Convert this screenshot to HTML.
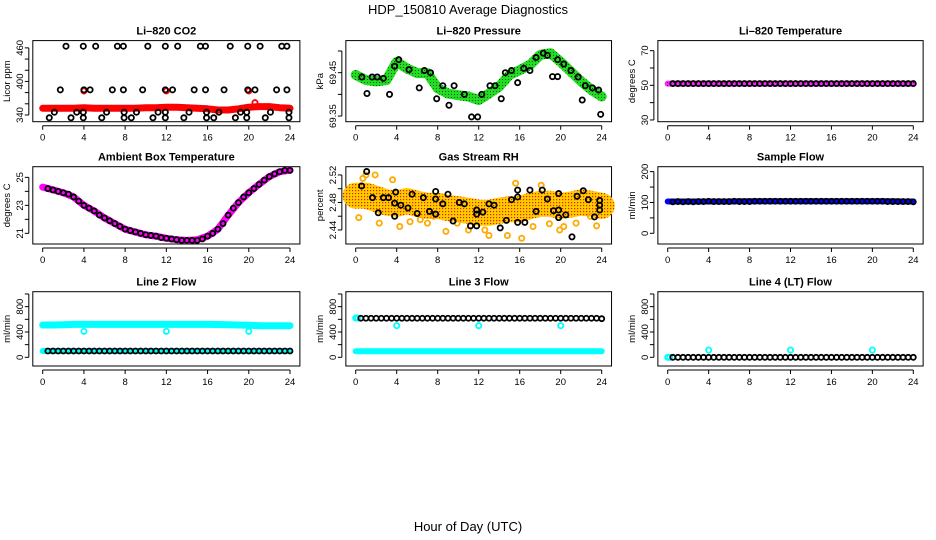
<!DOCTYPE html>
<html><head><meta charset="utf-8">
<style>
html,body{margin:0;padding:0;background:#fff;}
svg{display:block;font-family:"Liberation Sans",Helvetica,Arial,sans-serif;}
</style></head>
<body>
<svg id="root" width="936" height="540" viewBox="0 0 936 540" xmlns="http://www.w3.org/2000/svg">
<defs>
<pattern id="patGreen" width="3" height="3" patternUnits="userSpaceOnUse"><rect width="3" height="3" fill="#22dd22"/><rect x="1" y="1" width="1" height="1" fill="#0a5a0a"/></pattern>
<pattern id="patOrange" width="3" height="3" patternUnits="userSpaceOnUse"><rect width="3" height="3" fill="#ffcc00"/><rect x="1" y="1" width="1.2" height="1.2" fill="#e02000"/></pattern>
<pattern id="patMag" width="3" height="3" patternUnits="userSpaceOnUse"><rect width="3" height="3" fill="#ff22ff"/><rect x="1" y="1" width="1" height="1" fill="#600060"/></pattern>
</defs>
<text x="468" y="14" text-anchor="middle" font-size="13">HDP_150810  Average Diagnostics</text>
<text x="468" y="531" text-anchor="middle" font-size="13">Hour of Day (UTC)</text>
</svg>
<script>
// ---- data ----
const hours = [0,1,2,3,4,5,6,7,8,9,10,11,12,13,14,15,16,17,18,19,20,21,22,23,24];
const halfHours = [0.5,1,1.5,2,2.5,3,3.5,4,4.5,5,5.5,6,6.5,7,7.5,8,8.5,9,9.5,10,10.5,11,11.5,12,12.5,13,13.5,14,14.5,15,15.5,16,16.5,17,17.5,18,18.5,19,19.5,20,20.5,21,21.5,22,22.5,23,23.5,24];
const xTicks = [0,4,8,12,16,20,24];

const co2Band = [352,352,352,352,353,352,352,352,352,352,353,353,354,354,353,352,351,349,349,351,354,355,355,353,352];
const co2BlackHours = [2.26,3.94,5.14,7.25,7.83,10.2,11.9,13.1,15.3,15.8,18.2,19.9,21.1,23.2,23.7, 1.71,4.0,4.6,6.76,7.83,9.7,11.9,12.6,14.7,15.8,17.6,19.9,20.6,22.7,23.7, 1.13,3.3,3.94,6.2,7.9,9.1,11.2,11.9,14.2,15.9,17.1,19.2,19.8,22.1,23.9, 0.64,2.75,3.94,5.73,7.9,8.6,10.7,11.9,13.7,15.9,16.6,18.7,19.8,21.6,23.9];
const co2BlackVals = [463,463,463,463,463,463,463,463,463,463,463,463,463,463,463, 385,385,385,385,385,385,385,385,385,385,385,385,385,385,385, 345,345,345,345,345,345,345,345,345,345,345,345,345,345,345, 335,335,335,335,335,335,335,335,335,335,335,335,335,335,335];
const co2RedHours = [4,12,20,20.6];
const co2RedVals = [383,383,383,362];

const pressBand = [69.445,69.433,69.43,69.433,69.475,69.46,69.449,69.449,69.414,69.402,69.398,69.395,69.387,69.402,69.418,69.445,69.456,69.468,69.491,69.495,69.475,69.452,69.43,69.41,69.395];
const pressBlackHours = [1.1,3.3,6.2,7.9,9.1,11.3,11.9,14.2,15.8,19.2,19.7,22.1,23.9,0.6,1.6,2.1,2.7,3.8,4.2,5.2,6.7,7.3,8.5,9.6,10.6,12.3,13.1,13.6,14.6,15.2,16.4,17.0,17.6,18.3,18.7,19.7,20.3,21.0,21.7,22.4,23.1,23.7];
const pressBlackVals = [69.402,69.40,69.415,69.39,69.375,69.348,69.348,69.39,69.427,69.441,69.441,69.387,69.354,69.44,69.44,69.44,69.437,69.465,69.48,69.457,69.455,69.45,69.42,69.42,69.40,69.40,69.42,69.42,69.45,69.455,69.46,69.455,69.485,69.495,69.49,69.48,69.47,69.455,69.44,69.42,69.415,69.41];

const liTempBand = [51,51,51,51,51,51,51,51,51,51,51,51,51,51,51,51,51,51,51,51,51,51,51,51,51];
const liTempBlack = [51,51,51,51,51,51,51,51,51,51,51,51,51,51,51,51,51,51,51,51,51,51,51,51,51,51,51,51,51,51,51,51,51,51,51,51,51,51,51,51,51,51,51,51,51,51,51,51];

const ambientBand = [24.3,24.1,23.9,23.6,23.0,22.6,22.1,21.7,21.3,21.1,20.9,20.8,20.65,20.55,20.5,20.55,20.8,21.3,22.3,23.2,23.9,24.5,25.05,25.4,25.5];
const ambientBlack = [24.2,24.1,24.0,23.9,23.8,23.6,23.3,23.0,22.8,22.6,22.3,22.1,21.9,21.7,21.5,21.3,21.2,21.1,21.0,20.9,20.85,20.8,20.7,20.65,20.6,20.55,20.5,20.5,20.5,20.5,20.6,20.8,21.0,21.3,21.7,22.3,22.8,23.2,23.6,23.9,24.2,24.5,24.8,25.05,25.25,25.4,25.5,25.5];

const rhBand = [2.49,2.49,2.485,2.48,2.478,2.482,2.478,2.475,2.475,2.472,2.47,2.468,2.465,2.465,2.468,2.47,2.47,2.475,2.478,2.478,2.475,2.477,2.48,2.478,2.475];
const rhBlackHours = [0.58,1.07,1.64,2.2,2.7,3.2,3.8,3.9,3.8,4.4,5.1,5.5,6.0,6.6,7.2,7.8,7.8,7.8,8.5,9.0,9.5,10.1,10.6,11.2,11.8,11.8,11.8,12.4,13.0,13.5,14.1,14.7,15.2,15.8,15.8,15.8,16.5,17.0,17.6,18.2,18.7,19.3,19.8,19.8,19.8,20.5,21.1,21.6,22.2,22.7,23.3,23.8,23.8,23.8];
const rhBlackVals = [2.504,2.525,2.487,2.465,2.487,2.487,2.479,2.495,2.46,2.476,2.472,2.492,2.464,2.487,2.467,2.485,2.496,2.463,2.478,2.492,2.453,2.48,2.478,2.446,2.446,2.469,2.463,2.466,2.478,2.476,2.443,2.454,2.484,2.451,2.488,2.498,2.451,2.498,2.467,2.498,2.485,2.468,2.469,2.458,2.493,2.462,2.43,2.489,2.497,2.484,2.459,2.483,2.476,2.469];
const rhOrangeHours = [0.3,0.7,1.0,1.9,2.3,3.6,4.3,5.3,6.3,7.0,7.6,8.8,9.9,11.0,12.6,13.0,14.8,15.6,16.2,17.3,18.1,18.9,19.9,20.3,21.5,22.9,23.5];
const rhOrangeVals = [2.458,2.515,2.52,2.52,2.45,2.513,2.445,2.452,2.455,2.45,2.46,2.438,2.45,2.44,2.44,2.432,2.432,2.508,2.428,2.445,2.505,2.449,2.44,2.445,2.45,2.46,2.446];

const sampleBand = [103,103,103,103,103,103,103,104,104,104,104,104,104,104,104,104,104,104,104,104,104,104,104,103,103];
const sampleBlack = [102,103,102,103,102,103,103,104,103,103,103,103,104,103,103,103,104,104,104,104,104,104,104,104,104,104,104,104,104,104,104,104,104,104,104,104,104,104,104,104,104,104,103,103,103,103,103,102];

const line2High = [510,510,515,520,520,520,520,520,520,520,520,520,520,520,520,520,520,518,515,510,505,500,500,500,500];
const line2Low = [100,100,100,100,100,100,100,100,100,100,100,100,100,100,100,100,100,100,100,100,100,100,100,100,100];
const line2Black = [100,100,100,100,100,100,100,100,100,100,100,100,100,100,100,100,100,100,100,100,100,100,100,100,100,100,100,100,100,100,100,100,100,100,100,100,100,100,100,100,100,100,100,100,100,100,100,100];
const line2OutHours = [4,12,20];
const line2OutVals = [410,410,410];

const line3Low = [95,95,95,95,95,95,95,95,95,95,95,95,95,95,95,95,95,95,95,95,95,95,95,95,95];
const line3Black = [617,617,617,617,617,617,617,617,617,617,617,617,617,617,617,617,617,617,617,617,617,617,617,617,617,617,617,617,617,617,617,617,617,617,617,617,617,617,617,617,617,617,617,617,617,617,617,610];
const line3OutHours = [0,0.2,4,12,20];
const line3OutVals = [620,620,500,500,500];

const line4Black = [0,0,0,0,0,0,0,0,0,0,0,0,0,0,0,0,0,0,0,0,0,0,0,0,0,0,0,0,0,0,0,0,0,0,0,0,0,0,0,0,0,0,0,0,0,0,0,0];
const line4OutHours = [0,0.2,4,12,20];
const line4OutVals = [0,0,115,115,115];

// ---- drawing ----
const NS = 'http://www.w3.org/2000/svg';
const root = document.getElementById('root');
function mk(tag, attrs, parent){
  const el = document.createElementNS(NS, tag);
  for (const k in attrs) el.setAttribute(k, attrs[k]);
  (parent || root).appendChild(el);
  return el;
}
const cols = [{x0:42.7,x24:290.0},{x0:355.7,x24:601.7},{x0:667.7,x24:913.3}];
const rows = [{top:40.6,bot:121.7},{top:166.7,bot:244},{top:291.7,bot:366}];

function panel(name, c, r, title, ylab, ymin, ymax, ticks, labels){
  const col = cols[c], row = rows[r];
  const g = mk('g', {});
  
  
  const k = (col.x24 - col.x0) / 24;
  const sx = h => col.x0 + h * k;
  const sy = v => row.bot - (v - ymin) / (ymax - ymin) * (row.bot - row.top);
  const left = sx(-0.96), right = sx(24.96);
  const box = mk('rect', {x:left, y:row.top, width:right-left, height:row.bot-row.top, fill:'none', stroke:'#000', 'stroke-width':1}, g);
  
  
  const t = mk('text', {x:(left+right)/2, y:row.top-6, 'text-anchor':'middle', 'font-size':11, 'font-weight':'bold'}, g);
  t.textContent = title;
  
  
  const yl = mk('text', {transform:'translate(' + (left-23) + ',' + ((row.top+row.bot)/2) + ') rotate(-90)', 'text-anchor':'middle', 'font-size':9.5}, g);
  yl.textContent = ylab;
  
  
  const xa = mk('line', {x1:sx(0), x2:sx(24), y1:row.bot+4, y2:row.bot+4, stroke:'#000'}, g);
  
  
  xTicks.forEach(h => {
    mk('line', {x1:sx(h), x2:sx(h), y1:row.bot+4, y2:row.bot+8, stroke:'#000'}, g);
    const lt = mk('text', {x:sx(h), y:row.bot+19, 'text-anchor':'middle', 'font-size':9.5}, g);
    lt.textContent = h;
    
    
  });
  const ya = mk('line', {x1:left-4, x2:left-4, y1:sy(ticks[0]), y2:sy(ticks[ticks.length-1]), stroke:'#000'}, g);
  
  
  ticks.forEach(v => {
    mk('line', {x1:left-8, x2:left-4, y1:sy(v), y2:sy(v), stroke:'#000'}, g);
  });
  labels.forEach(v => {
    const lt = mk('text', {transform:'translate(' + (left-10) + ',' + sy(v) + ') rotate(-90)', 'text-anchor':'middle', 'font-size':9.5}, g);
    lt.textContent = v;
    
    
  });
  return {g, sx, sy};
}
function band(p, name, xs, ys, stroke, width){
  const pts = xs.map((h,i) => p.sx(h).toFixed(1) + ',' + p.sy(ys[i]).toFixed(1)).join(' ');
  const pl = mk('polyline', {points:pts, fill:'none', stroke:stroke, 'stroke-width':width, 'stroke-linecap':'round', 'stroke-linejoin':'round'}, p.g);
  
  
}
function dots(p, name, xs, ys, color, r){
  xs.forEach((h,i) => {
    const c = mk('circle', {cx:p.sx(h), cy:p.sy(ys[i]), r:r || 2.6, fill:'none', stroke:color, 'stroke-width':1.8}, p.g);
    
    
  });
}

let p;
p = panel('co2', 0, 0, 'Li\u2013820 CO2', 'Licor ppm', 328, 473, [340,360,380,400,420,440,460], [340,400,460]);
band(p, 'co2-band', hours, co2Band, '#ff0000', 7);
dots(p, 'co2-red-point', co2RedHours, co2RedVals, '#ff0000');
dots(p, 'co2-black-point', co2BlackHours, co2BlackVals, '#000');

p = panel('pressure', 1, 0, 'Li\u2013820 Pressure', 'kPa', 69.337, 69.524, [69.35,69.40,69.45,69.50], ['69.35','69.45']);
band(p, 'pressure-band', hours, pressBand, 'url(#patGreen)', 10);
dots(p, 'pressure-black-point', pressBlackHours, pressBlackVals, '#000');

p = panel('li-temp', 2, 0, 'Li\u2013820 Temperature', 'degrees C', 29.0, 75.8, [30,40,50,60,70], [30,50,70]);
band(p, 'li-temp-band', hours, liTempBand, 'url(#patMag)', 6);
dots(p, 'li-temp-black-point', halfHours, liTempBlack, '#000', 2.5);

p = panel('ambient', 0, 1, 'Ambient Box Temperature', 'degrees C', 20.24, 25.76, [21,22,23,24,25], [21,23,25]);
band(p, 'ambient-band', hours, ambientBand, '#ff00ff', 7);
dots(p, 'ambient-black-point', halfHours, ambientBlack, '#000', 2.5);

p = panel('rh', 1, 1, 'Gas Stream RH', 'percent', 2.4196, 2.532, [2.44,2.46,2.48,2.50,2.52], ['2.44','2.48','2.52']);
band(p, 'rh-band', hours, rhBand, 'url(#patOrange)', 26);
dots(p, 'rh-orange-point', rhOrangeHours, rhOrangeVals, '#ffaa00');
dots(p, 'rh-black-point', rhBlackHours, rhBlackVals, '#000');

p = panel('sample-flow', 2, 1, 'Sample Flow', 'ml/min', -34.7, 216, [0,50,100,150,200], [0,100,200]);
band(p, 'sample-flow-band', hours, sampleBand, '#0000ff', 6);
dots(p, 'sample-flow-black-point', halfHours, sampleBlack, '#000', 2.5);

p = panel('line2', 0, 2, 'Line 2 Flow', 'ml/min', -137, 1036, [0,200,400,600,800,1000], [0,400,800]);
band(p, 'line2-high-band', hours, line2High, '#00ffff', 7);
band(p, 'line2-low-band', hours, line2Low, '#00ffff', 6);
dots(p, 'line2-outlier', line2OutHours, line2OutVals, '#00ffff');
dots(p, 'line2-black-point', halfHours, line2Black, '#000', 2.5);

p = panel('line3', 1, 2, 'Line 3 Flow', 'ml/min', -137, 1036, [0,200,400,600,800,1000], [0,400,800]);
band(p, 'line3-low-band', hours, line3Low, '#00ffff', 6);
dots(p, 'line3-outlier', line3OutHours, line3OutVals, '#00ffff');
dots(p, 'line3-black-point', halfHours, line3Black, '#000', 2.5);

p = panel('line4', 2, 2, 'Line 4 (LT) Flow', 'ml/min', -137, 1036, [0,200,400,600,800,1000], [0,400,800]);
dots(p, 'line4-outlier', line4OutHours, line4OutVals, '#00ffff');
dots(p, 'line4-black-point', halfHours, line4Black, '#000', 2.5);
</script>
</body></html>
